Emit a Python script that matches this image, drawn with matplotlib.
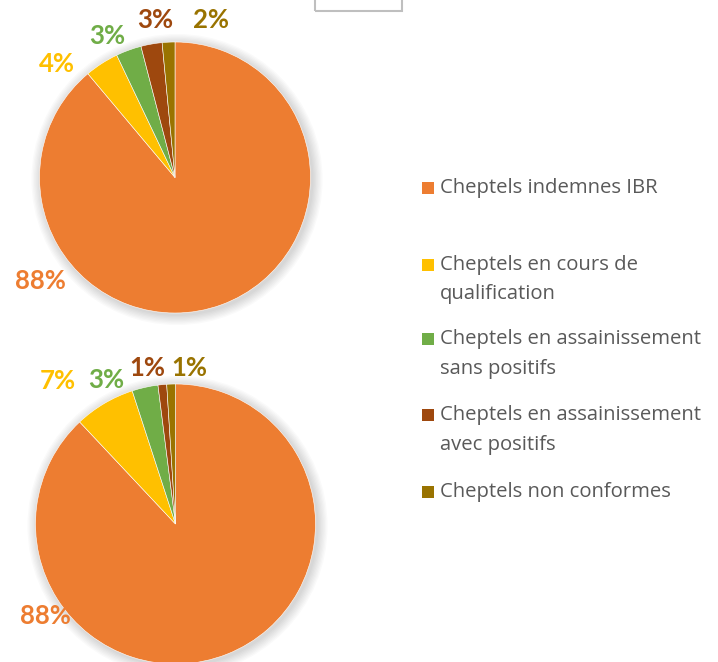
"""Deux camemberts IBR avec legende commune"""

import matplotlib.pyplot as plt
from matplotlib.patches import Rectangle, Circle

categories = ['Cheptels indemnes IBR',
              'Cheptels en cours de\nqualification',
              'Cheptels en assainissement\nsans positifs',
              'Cheptels en assainissement\navec positifs',
              'Cheptels non conformes']
colors = ['#ED7D31', '#FFC000', '#70AD47', '#9E480E', '#997300']

top_values = [88, 4, 3, 2.5, 1.5]
top_labels = ['88%', '4%', '3%', '3%', '2%']
bottom_values = [88, 7, 3, 1, 1]
bottom_labels = ['88%', '7%', '3%', '1%', '1%']

W, H = 718, 662
fig = plt.figure(figsize=(W / 100, H / 100), dpi=100)
ax = fig.add_axes([0, 0, 1, 1])


def draw_pie(values, labels, center, radius, label_pos):
    cx, cy = center[0], H - center[1]
    # soft shadow
    for k in range(8):
        ax.add_patch(Circle((cx + 2, cy - 2), radius + 1 + k * 1.3,
                            color='black', alpha=0.02, lw=0, zorder=1))
    ax.pie(values, colors=colors, startangle=90, counterclock=False,
           center=(cx, cy), radius=radius,
           wedgeprops=dict(edgecolor='white', linewidth=0.4, zorder=2))
    for lab, (x, y), c in zip(labels, label_pos, colors):
        ax.text(x, H - y, lab, color=c, fontsize=18.5, fontweight='bold',
                family='Lato', ha='center', va='center', zorder=3)


draw_pie(top_values, top_labels, (175, 177.5), 135.5,
         [(40, 281), (57, 64), (107, 36), (155, 20), (211, 20)])
draw_pie(bottom_values, bottom_labels, (175.5, 524), 140,
         [(45, 616), (58, 381), (106, 380), (147, 368), (189, 368)])

# pie() resets the limits, so set them afterwards
ax.set_xlim(0, W)
ax.set_ylim(0, H)
ax.set_aspect('equal')
ax.axis('off')

# legende
legend_rows = [[188], [265, 294], [339, 369], [415, 445], [492]]
for lab, c, rows in zip(categories, colors, legend_rows):
    ax.add_patch(Rectangle((422, H - rows[0] - 6), 12, 12, color=c, lw=0))
    for line, y in zip(lab.split('\n'), rows):
        ax.text(440, H - y, line, color='#595959', fontsize=14.6,
                family='Open Sans', ha='left', va='center')

# cadre partiel en haut
ax.add_patch(Rectangle((315, H - 11), 87, 14, fill=False,
                       edgecolor='#bfbfbf', lw=1.5, clip_on=False))

fig.savefig('out.png', dpi=100)
